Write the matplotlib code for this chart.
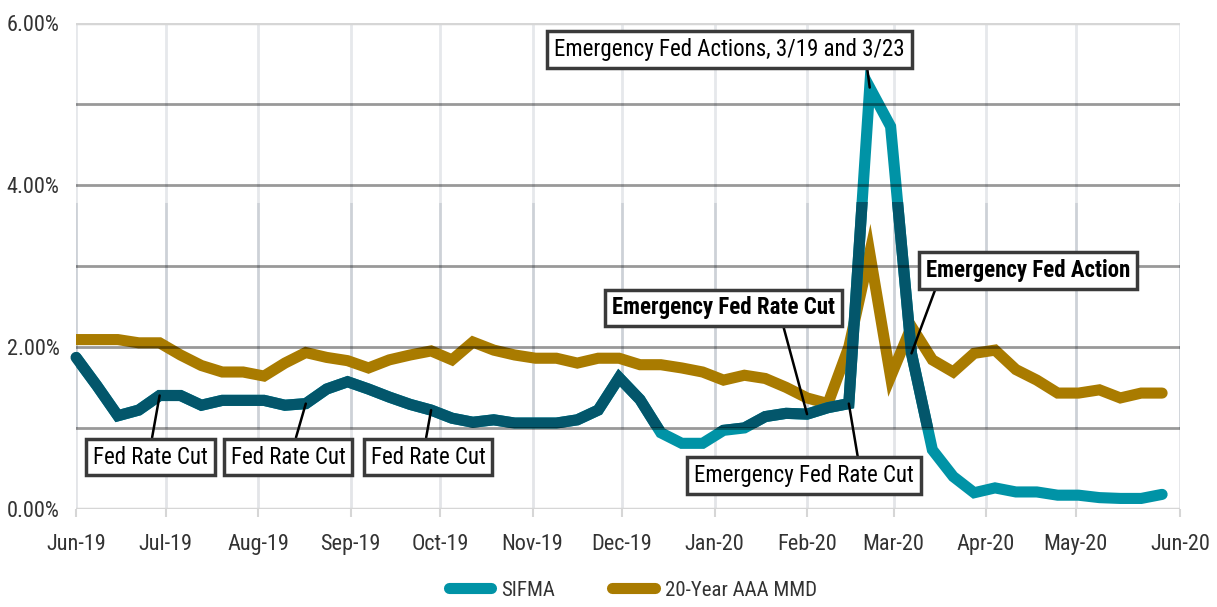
import matplotlib
matplotlib.use("Agg")
import matplotlib.pyplot as plt
import matplotlib.dates as mdates
from matplotlib import font_manager as fm
from matplotlib.lines import Line2D
from matplotlib.patches import Rectangle
import pandas as pd

# ---------------- font choice (narrow sans if available) ----------------
def _is_cond(st):
    if isinstance(st, str):
        return 'condensed' in st or 'narrow' in st
    try:
        return int(st) < 500
    except Exception:
        return False

entries = fm.fontManager.ttflist
cond_names = {f.name for f in entries if _is_cond(f.stretch)}
FONT, STRETCH, FS = None, 'normal', 16
for cand in ['Liberation Sans Narrow', 'Roboto Condensed', 'Open Sans Condensed',
             'Noto Sans Condensed', 'Noto Sans', 'DejaVu Sans', 'Open Sans', 'Lato']:
    if cand in cond_names:
        FONT, STRETCH = cand, 'condensed'
        break
if FONT is None:
    FONT, STRETCH, FS = 'Roboto', 'normal', 14.5
plt.rcParams['font.family'] = [FONT, 'DejaVu Sans']
plt.rcParams['font.stretch'] = STRETCH

# ---------------- data ----------------
week_dates = pd.date_range('2019-06-01', periods=53, freq='7D')

sifma = [1.87, 1.52, 1.15, 1.22, 1.40, 1.40, 1.28, 1.34, 1.34, 1.34,
         1.28, 1.30, 1.48, 1.57, 1.48, 1.38, 1.29, 1.22, 1.12, 1.07,
         1.10, 1.06, 1.06, 1.06, 1.10, 1.22, 1.62, 1.35, 0.94, 0.81,
         0.81, 0.97, 1.00, 1.14, 1.18, 1.17, 1.25, 1.30, 5.20, 4.72,
         1.92, 0.73, 0.40, 0.20, 0.26, 0.21, 0.21, 0.17, 0.17, 0.14,
         0.13, 0.13, 0.18]

mmd20 = [2.09, 2.09, 2.09, 2.05, 2.05, 1.90, 1.77, 1.69, 1.69, 1.64,
         1.80, 1.93, 1.87, 1.83, 1.74, 1.84, 1.90, 1.95, 1.84, 2.06,
         1.96, 1.90, 1.86, 1.86, 1.80, 1.86, 1.86, 1.78, 1.78, 1.74,
         1.69, 1.59, 1.65, 1.61, 1.50, 1.37, 1.30, 2.00, 3.16, 1.63,
         2.25, 1.84, 1.69, 1.92, 1.96, 1.72, 1.59, 1.43, 1.43, 1.47,
         1.37, 1.43, 1.43]

series_names = ['SIFMA', '20-Year AAA MMD']

tick_dates = list(pd.date_range('2019-06-01', '2020-05-01', freq='MS')) + [pd.Timestamp('2020-06-05')]
tick_labels = ['Jun-19', 'Jul-19', 'Aug-19', 'Sep-19', 'Oct-19', 'Nov-19', 'Dec-19',
               'Jan-20', 'Feb-20', 'Mar-20', 'Apr-20', 'May-20', 'Jun-20']
y_ticks = [0, 2, 4, 6]
y_tick_labels = ['0.00%', '2.00%', '4.00%', '6.00%']

# annotations: (text, index of SIFMA point, text-centre date, text-centre y, relpos, weight)
annotations = [
    ('Fed Rate Cut', 4, '2019-06-26', 0.64, (0.5, 1.0), 'normal'),
    ('Fed Rate Cut', 11, '2019-08-11', 0.64, (0.55, 1.0), 'normal'),
    ('Fed Rate Cut', 17, '2019-09-27', 0.64, (0.47, 1.0), 'normal'),
    ('Emergency Fed Rate Cut', 35, '2020-01-04', 2.48, (0.76, 0.0), 'bold'),
    ('Emergency Fed Rate Cut', 37, '2020-01-31', 0.41, (0.75, 1.0), 'normal'),
    ('Emergency Fed Actions, 3/19 and 3/23', 38, '2020-01-06', 5.67, (0.89, 0.0), 'normal'),
    ('Emergency Fed Action', 40, '2020-04-15', 2.94, (0.06, 0.0), 'bold'),
]

# ---------------- style ----------------
TEAL = '#0093A6'
TEAL_DARK = '#03566B'
GOLD = '#A97B00'
TXT = '#333333'
band_lo, band_hi = 1.0, 3.79

fig = plt.figure(figsize=(12.17, 6.07), dpi=100)
ax = fig.add_axes([0.0625, 0.1615, 0.9071, 0.8011])

x0 = pd.Timestamp('2019-06-01')
x1 = pd.Timestamp('2020-06-05')
ax.set_xlim(x0, x1)
ax.set_ylim(0, 6)

for s in ax.spines.values():
    s.set_visible(False)

# vertical gridlines (darker inside the band)
ax.vlines(tick_dates, 0, band_lo, color='#e3e5e8', lw=2, zorder=1)
ax.vlines(tick_dates, band_lo, band_hi, color='#cdd1d7', lw=2, zorder=1)
ax.vlines(tick_dates, band_hi, 6, color='#e6e8eb', lw=2, zorder=1)

# lines
ax.plot(week_dates, mmd20, color=GOLD, lw=8, solid_joinstyle='miter',
        solid_capstyle='round', zorder=3)
ax.plot(week_dates, sifma, color=TEAL, lw=8, solid_joinstyle='miter',
        solid_capstyle='round', zorder=4)
dark, = ax.plot(week_dates, sifma, color=TEAL_DARK, lw=8, solid_joinstyle='miter',
                solid_capstyle='round', zorder=4.1)
clip = Rectangle((mdates.date2num(x0) - 10, band_lo), 500, band_hi - band_lo,
                 transform=ax.transData)
dark.set_clip_path(clip)

# horizontal gridlines on top (multiply-like)
for yv in [1, 2, 3, 4, 5]:
    ax.axhline(yv, color='black', alpha=0.40, lw=2, zorder=5)
for yv in [0, 6]:
    ax.axhline(yv, color='#d6d6d6', lw=2.5, zorder=5)

# ticks
ax.set_xticks(tick_dates)
ax.set_xticklabels(tick_labels, fontsize=FS, color=TXT)
ax.tick_params(axis='x', length=6, width=1.5, color='#d6d6d6', pad=12)
ax.set_yticks(y_ticks)
ax.set_yticklabels(y_tick_labels, fontsize=FS, color=TXT)
ax.tick_params(axis='y', length=0, pad=12)

# annotations
for text, idx, tdate, ty, rp, wt in annotations:
    ax.annotate(text, xy=(week_dates[idx], sifma[idx]),
                xytext=(pd.Timestamp(tdate), ty), textcoords='data',
                ha='center', va='center', fontsize=FS + 0.5, color='black', fontweight=wt,
                bbox=dict(boxstyle='square,pad=0.3', fc='white', ec='#3a3a3a', lw=2.5),
                arrowprops=dict(arrowstyle='-', color='black', lw=1.8, relpos=rp,
                                shrinkA=0, shrinkB=0),
                zorder=10, annotation_clip=False)

# legend
handles = [Line2D([0], [0], color=TEAL, lw=8, solid_capstyle='round'),
           Line2D([0], [0], color=GOLD, lw=8, solid_capstyle='round')]
fig.legend(handles, series_names, loc='center', bbox_to_anchor=(0.52, 0.028),
           ncol=2, frameon=False, fontsize=FS - 1, handlelength=2.05, columnspacing=2.75,
           handletextpad=0.48, labelcolor=TXT)

fig.savefig('out.png', dpi=100)
